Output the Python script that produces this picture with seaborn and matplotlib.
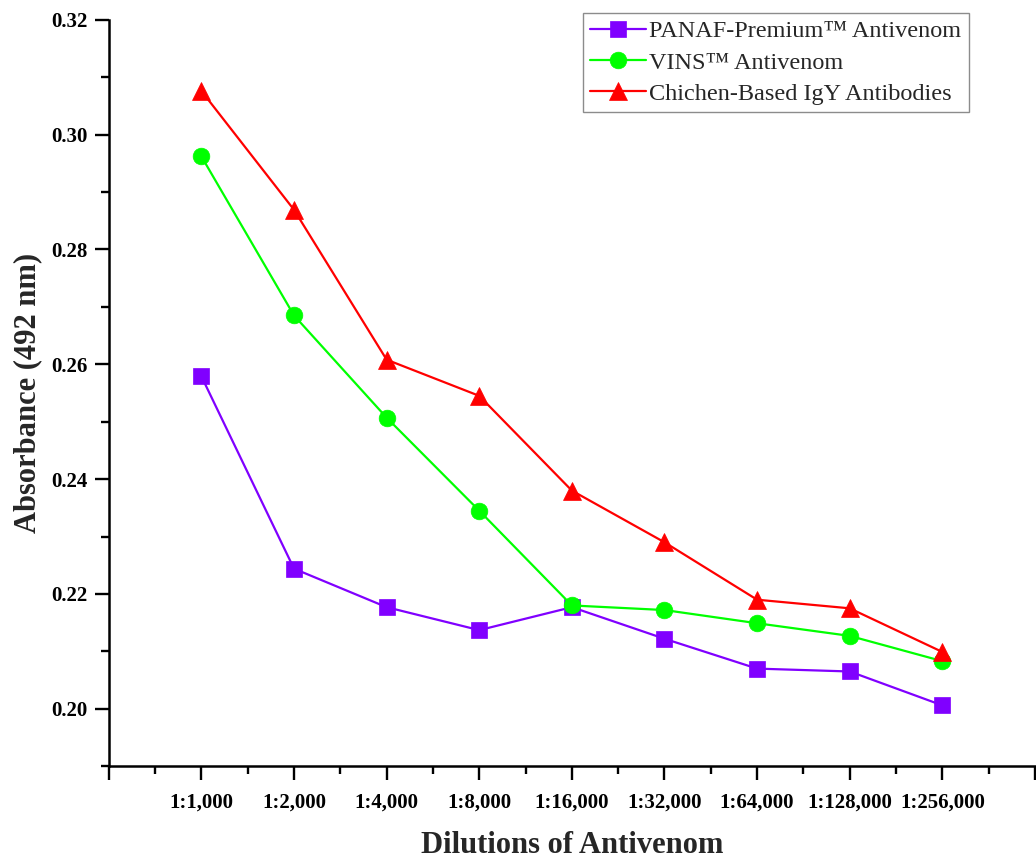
import matplotlib
matplotlib.use("Agg")
import matplotlib.pyplot as plt
import seaborn as sns
import pandas as pd
from matplotlib.ticker import MultipleLocator, FixedLocator

# ---- data ----
dilutions = ["1:1,000", "1:2,000", "1:4,000", "1:8,000", "1:16,000",
             "1:32,000", "1:64,000", "1:128,000", "1:256,000"]
panaf = [0.2579, 0.2244, 0.2177, 0.2137, 0.2177, 0.2122, 0.2070, 0.2065, 0.2006]
vins = [0.2962, 0.2685, 0.2507, 0.2345, 0.2180, 0.2172, 0.2149, 0.2127, 0.2083]
igy = [0.3076, 0.2869, 0.2608, 0.2545, 0.2380, 0.2290, 0.2190, 0.2175, 0.2099]
series_names = ["PANAF-Premium™ Antivenom", "VINS™ Antivenom", "Chichen-Based IgY Antibodies"]
series_values = [panaf, vins, igy]
colors = ["#8000FF", "#00FF00", "#FF0000"]
markers = ["s", "o", "^"]
msizes = [11, 12, 13]

sns.set_theme(style="ticks")
plt.rcParams["font.family"] = ["Liberation Serif", "DejaVu Serif"]

fig = plt.figure(figsize=(10.36, 8.59), dpi=100)
ax = fig.add_axes([0.105, 0.108, 0.894, 0.869])

pos = list(range(len(dilutions)))
for name, vals, c, m, ms in zip(series_names, series_values, colors, markers, msizes):
    df = pd.DataFrame({"x": pos, "y": vals})
    sns.lineplot(data=df, x="x", y="y", ax=ax, color=c, marker=m, markersize=ms,
                 markeredgecolor=c, markeredgewidth=0.5, linewidth=1.6, label=name)

ax.set_xlim(-1, len(dilutions))
ax.set_ylim(0.19, 0.32)
ax.xaxis.set_major_locator(FixedLocator(list(range(-1, len(dilutions) + 1))))
ax.set_xticklabels([""] + dilutions + [""])
ax.xaxis.set_minor_locator(MultipleLocator(0.5))
ax.yaxis.set_major_locator(FixedLocator([0.20, 0.22, 0.24, 0.26, 0.28, 0.30, 0.32]))
ax.yaxis.set_minor_locator(MultipleLocator(0.01))
ax.set_yticklabels(["0.20", "0.22", "0.24", "0.26", "0.28", "0.30", "0.32"])

for sp in ["top", "right"]:
    ax.spines[sp].set_visible(False)
for sp in ["left", "bottom"]:
    ax.spines[sp].set_linewidth(1.8)
    ax.spines[sp].set_color("black")

ax.tick_params(axis="x", which="major", direction="out", length=10, width=1.7,
               colors="black", labelsize=15, pad=9)
ax.tick_params(axis="y", which="major", direction="out", length=10, width=1.7,
               colors="black", labelsize=15, pad=5)
ax.tick_params(which="minor", direction="out", length=5.5, width=1.7, colors="black")
for lab in ax.get_xticklabels() + ax.get_yticklabels():
    lab.set_fontweight("bold")

ax.set_xlabel("Dilutions of Antivenom", fontsize=22, fontweight="bold", labelpad=13)
ax.set_ylabel("Absorbance (492 nm)", fontsize=22, fontweight="bold", labelpad=7)

leg = ax.legend(loc="upper left", bbox_to_anchor=(0.512, 1.009), borderaxespad=0,
                fontsize=17.5, frameon=True, fancybox=False, labelspacing=0.38,
                handlelength=2.3, handletextpad=0.12, borderpad=0.3)
leg.get_frame().set_edgecolor("#707070")
leg.get_frame().set_linewidth(1.0)

fig.savefig("out.png", dpi=100)
